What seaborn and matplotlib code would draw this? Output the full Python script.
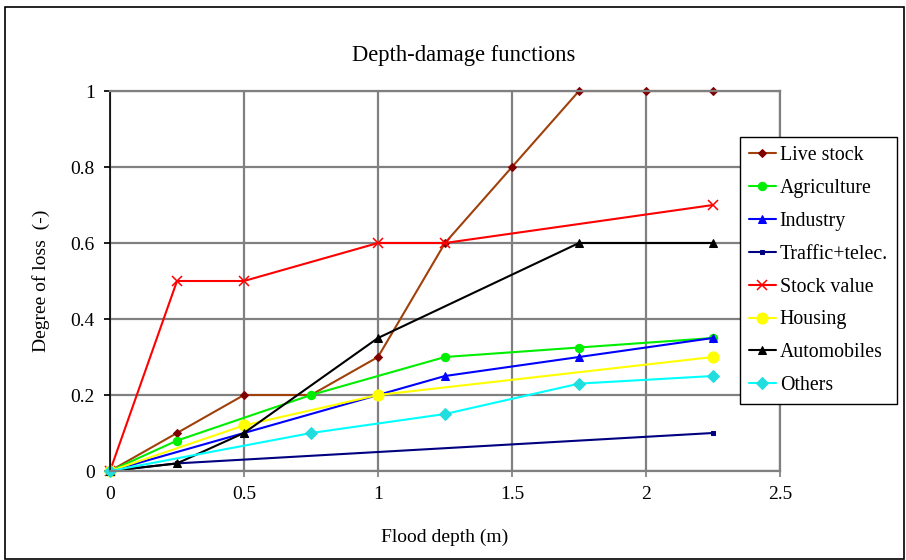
import matplotlib
matplotlib.use("Agg")
import matplotlib.pyplot as plt
import seaborn as sns
import pandas as pd
from matplotlib.patches import Rectangle

sns.set_theme(style="white")
plt.rcParams["font.family"] = ["Liberation Serif", "DejaVu Serif"]
plt.rcParams["text.color"] = "#000000"
plt.rcParams["axes.labelcolor"] = "#000000"
plt.rcParams["xtick.color"] = "#000000"
plt.rcParams["ytick.color"] = "#000000"

# Depth-damage curves: flood depth (m) vs. degree of loss
live_stock_x = [0, 0.25, 0.5, 0.75, 1.0, 1.25, 1.5, 1.75, 2.0, 2.25]
live_stock_y = [0, 0.1, 0.2, 0.2, 0.3, 0.6, 0.8, 1.0, 1.0, 1.0]

agriculture_x = [0, 0.25, 0.75, 1.25, 1.75, 2.25]
agriculture_y = [0, 0.08, 0.2, 0.3, 0.325, 0.35]

industry_x = [0, 0.5, 1.0, 1.25, 1.75, 2.25]
industry_y = [0, 0.1, 0.2, 0.25, 0.3, 0.35]

traffic_x = [0, 0.25, 2.25]
traffic_y = [0, 0.02, 0.1]

stock_value_x = [0, 0.25, 0.5, 1.0, 1.25, 2.25]
stock_value_y = [0, 0.5, 0.5, 0.6, 0.6, 0.7]

housing_x = [0, 0.5, 1.0, 2.25]
housing_y = [0, 0.12, 0.2, 0.3]

automobiles_x = [0, 0.25, 0.5, 1.0, 1.75, 2.25]
automobiles_y = [0, 0.02, 0.1, 0.35, 0.6, 0.6]

others_x = [0, 0.75, 1.25, 1.75, 2.25]
others_y = [0, 0.1, 0.15, 0.23, 0.25]

series = [
    ("Live stock", live_stock_x, live_stock_y,
     dict(color="#a0400a", marker="D", markersize=4.5, markerfacecolor="#800000", markeredgecolor="#800000")),
    ("Agriculture", agriculture_x, agriculture_y,
     dict(color="#00ee00", marker="o", markersize=6, markerfacecolor="#00ee00", markeredgecolor="#00ee00")),
    ("Industry", industry_x, industry_y,
     dict(color="#0000ff", marker="^", markersize=6, markerfacecolor="#0000ff", markeredgecolor="#0000ff")),
    ("Traffic+telec.", traffic_x, traffic_y,
     dict(color="#000080", marker="s", markersize=3.5, markerfacecolor="#000080", markeredgecolor="#000080")),
    ("Stock value", stock_value_x, stock_value_y,
     dict(color="#ff0000", marker="x", markersize=7, markeredgewidth=1.1, markeredgecolor="#ff0000")),
    ("Housing", housing_x, housing_y,
     dict(color="#ffff00", marker="o", markersize=8, markerfacecolor="#ffff00", markeredgecolor="#ffff00")),
    ("Automobiles", automobiles_x, automobiles_y,
     dict(color="#000000", marker="^", markersize=6, markerfacecolor="#000000", markeredgecolor="#000000")),
    ("Others", others_x, others_y,
     dict(color="#00ffff", marker="D", markersize=6, markerfacecolor="#22dddd", markeredgecolor="#22dddd")),
]

fig = plt.figure(figsize=(9.06, 5.6), dpi=100)
ax = fig.add_axes([110 / 906, 89 / 560, 670 / 906, 380 / 560])

for name, xs, ys, style in series:
    df = pd.DataFrame({"x": xs, "y": ys})
    sns.lineplot(data=df, x="x", y="y", ax=ax, label=name, linewidth=1.5,
                 clip_on=False, **style)

ax.set_xlim(0, 2.5)
ax.set_ylim(0, 1)
ax.set_xticks([0, 0.5, 1, 1.5, 2, 2.5])
ax.set_xticklabels(["0", "0.5", "1", "1.5", "2", "2.5"])
ax.set_yticks([0, 0.2, 0.4, 0.6, 0.8, 1])
ax.set_yticklabels(["0", "0.2", "0.4", "0.6", "0.8", "1"])
ax.grid(True, color="#808080", linewidth=1.6)
ax.set_axisbelow(True)
for side in ["top", "right", "bottom"]:
    ax.spines[side].set_color("#808080")
    ax.spines[side].set_linewidth(1.6)
ax.spines["left"].set_color("#000000")
ax.spines["left"].set_linewidth(1.2)
ax.tick_params(axis="both", labelsize=14, labelcolor="#000000", length=4,
               direction="out", pad=7, bottom=True, left=True)
ax.tick_params(axis="x", color="#808080")
ax.tick_params(axis="y", color="#000000")

ax.set_xlabel("Flood depth (m)", fontsize=14)
ax.set_ylabel("Degree of loss  (-)", fontsize=14)
ax.xaxis.set_label_coords(0.5, (471 - 529) / 380)
ax.yaxis.set_label_coords((50 - 110) / 670, 0.5)
fig.text(464 / 906, 1 - 56 / 560, "Depth-damage functions", ha="center", va="center", fontsize=16.3)

leg = ax.legend(loc="upper left", bbox_to_anchor=(740 / 906, 1 - 137 / 560),
                bbox_transform=fig.transFigure, fontsize=14.3, frameon=True,
                fancybox=False, edgecolor="#000000", framealpha=1,
                handlelength=1.35, handletextpad=0.2, labelspacing=0.7,
                borderpad=0.45, borderaxespad=0)
leg.get_frame().set_linewidth(1.0)
for t in leg.get_texts():
    t.set_color("#000000")

fig.patches.append(Rectangle((5 / 906, 1 / 560), 899 / 906, 552 / 560,
                             transform=fig.transFigure, fill=False,
                             edgecolor="#000000", linewidth=1.2))

fig.savefig("out.png", dpi=100)
